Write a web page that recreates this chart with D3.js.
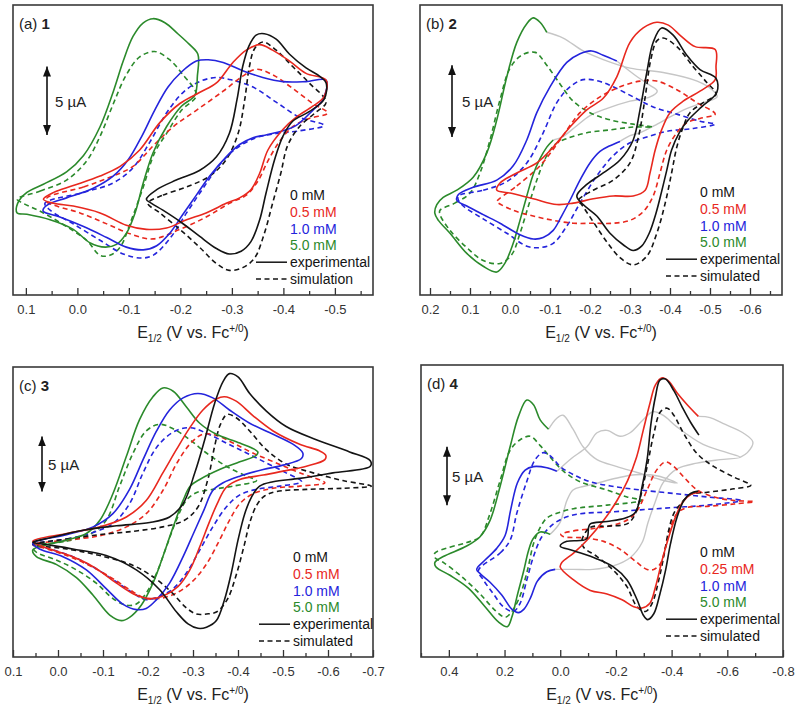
<!DOCTYPE html>
<html>
<head>
<meta charset="utf-8">
<script src="https://cdn.jsdelivr.net/npm/d3@7"></script>
<style>
body{margin:0;background:#fff}
text{font-family:"Liberation Sans",Arial,sans-serif}
</style>
</head>
<body>
<svg width="800" height="707"></svg>
<script>
// tick labels
var ticksA = ["0.1","0.0","-0.1","-0.2","-0.3","-0.4","-0.5"];
var ticksB = ["0.2","0.1","0.0","-0.1","-0.2","-0.3","-0.4","-0.5","-0.6"];
var ticksC = ["0.1","0.0","-0.1","-0.2","-0.3","-0.4","-0.5","-0.6","-0.7"];
var ticksD = ["0.4","0.2","0.0","-0.2","-0.4","-0.6","-0.8"];
var concA = ["0 mM","0.5 mM","1.0 mM","5.0 mM"];
var concD = ["0 mM","0.25 mM","1.0 mM","5.0 mM"];

// [E (V vs Fc), I (uA, arbitrary offset)]
// ---- panel (a) ----
var a_exp0 = [[-0.134,7.0],[-0.154,7.7],[-0.192,8.4],[-0.237,9.1],[-0.270,10.1],[-0.295,11.8],[-0.310,14.3],[-0.321,16.7],[-0.333,18.2],[-0.347,19.0],[-0.363,19.1],[-0.386,18.7],[-0.412,17.6],[-0.444,16.6],[-0.470,16.0],[-0.483,15.5],[-0.479,14.3],[-0.450,13.4],[-0.418,12.7],[-0.399,11.6],[-0.383,9.9],[-0.366,7.4],[-0.354,5.5],[-0.337,3.9],[-0.318,3.2],[-0.295,3.0],[-0.270,3.4],[-0.237,4.3],[-0.202,5.3],[-0.166,6.2],[-0.144,6.7]];
var a_sim0 = [[-0.137,6.7],[-0.166,7.3],[-0.212,7.9],[-0.257,8.7],[-0.289,9.9],[-0.312,11.8],[-0.325,14.3],[-0.334,16.7],[-0.344,18.0],[-0.360,18.5],[-0.386,17.9],[-0.418,16.7],[-0.450,15.5],[-0.483,14.1],[-0.461,13.3],[-0.431,12.3],[-0.408,10.9],[-0.395,8.9],[-0.379,6.7],[-0.363,4.5],[-0.344,2.7],[-0.321,2.0],[-0.295,1.8],[-0.270,2.3],[-0.237,3.5],[-0.199,4.8],[-0.160,6.0]];
var a_exp05 = [[0.066,7.0],[0.046,7.5],[0.008,8.0],[-0.044,8.7],[-0.083,9.4],[-0.121,10.6],[-0.160,12.6],[-0.199,14.0],[-0.237,14.8],[-0.270,15.5],[-0.302,17.0],[-0.328,17.9],[-0.354,18.3],[-0.379,17.9],[-0.412,17.1],[-0.444,16.2],[-0.483,15.7],[-0.479,14.5],[-0.457,13.8],[-0.425,13.0],[-0.399,12.1],[-0.370,10.6],[-0.354,8.9],[-0.337,7.7],[-0.315,7.1],[-0.289,6.7],[-0.250,6.0],[-0.212,5.5],[-0.173,4.9],[-0.134,4.8],[-0.095,5.1],[-0.044,6.0],[0.008,6.5],[0.046,6.7]];
var a_sim05 = [[0.059,7.1],[-0.012,7.9],[-0.063,8.6],[-0.108,9.4],[-0.147,10.9],[-0.186,12.3],[-0.231,13.5],[-0.283,14.9],[-0.321,16.0],[-0.347,16.5],[-0.379,16.1],[-0.418,15.1],[-0.457,14.0],[-0.486,13.3],[-0.450,12.9],[-0.418,12.3],[-0.392,11.2],[-0.370,9.8],[-0.350,8.3],[-0.328,7.3],[-0.295,6.7],[-0.250,5.7],[-0.199,4.8],[-0.147,4.1],[-0.108,4.4],[-0.057,5.2],[-0.005,6.0],[0.040,6.5],[0.059,6.8]];
var a_exp1 = [[0.066,6.3],[0.053,6.7],[0.021,7.1],[-0.031,7.8],[-0.070,8.7],[-0.099,9.9],[-0.125,11.6],[-0.150,13.5],[-0.176,15.2],[-0.202,16.3],[-0.231,17.1],[-0.254,17.2],[-0.283,17.0],[-0.321,16.4],[-0.360,15.9],[-0.399,15.6],[-0.444,15.6],[-0.483,15.7],[-0.477,14.3],[-0.457,13.5],[-0.425,12.4],[-0.399,12.0],[-0.366,11.7],[-0.341,11.5],[-0.315,11.0],[-0.289,10.1],[-0.257,8.7],[-0.231,7.3],[-0.205,5.9],[-0.179,4.5],[-0.154,3.6],[-0.128,3.3],[-0.095,3.5],[-0.057,4.2],[-0.012,5.0],[0.034,5.7],[0.066,6.1]];
var a_sim1 = [[0.063,6.7],[-0.012,7.5],[-0.070,8.2],[-0.108,9.3],[-0.141,11.2],[-0.173,13.3],[-0.205,14.8],[-0.237,15.6],[-0.270,15.9],[-0.302,15.7],[-0.341,15.2],[-0.386,14.1],[-0.431,13.0],[-0.479,12.4],[-0.431,12.0],[-0.386,11.8],[-0.347,11.5],[-0.308,10.7],[-0.276,9.5],[-0.244,7.8],[-0.212,6.0],[-0.179,4.1],[-0.147,2.9],[-0.125,2.7],[-0.089,3.0],[-0.044,4.0],[0.008,5.2],[0.053,6.2]];
var a_exp5 = [[0.117,6.0],[0.116,6.7],[0.098,7.5],[0.066,8.1],[0.021,9.0],[-0.012,10.2],[-0.044,12.3],[-0.070,14.9],[-0.089,17.1],[-0.108,18.9],[-0.128,19.9],[-0.147,20.2],[-0.170,19.9],[-0.195,19.1],[-0.218,18.3],[-0.234,17.6],[-0.233,16.0],[-0.228,14.6],[-0.202,13.8],[-0.173,12.3],[-0.147,10.4],[-0.128,8.2],[-0.112,6.0],[-0.095,4.5],[-0.076,3.7],[-0.054,3.5],[-0.025,3.8],[0.008,4.8],[0.053,5.5],[0.098,5.9]];
var a_sim5 = [[0.117,7.0],[0.072,7.6],[0.021,8.4],[-0.018,9.8],[-0.044,11.6],[-0.070,14.0],[-0.095,16.1],[-0.121,17.4],[-0.150,17.8],[-0.179,17.2],[-0.205,16.1],[-0.231,14.6],[-0.202,13.5],[-0.173,11.8],[-0.150,10.4],[-0.128,7.9],[-0.105,5.5],[-0.083,3.5],[-0.063,2.9],[-0.044,2.9],[-0.018,4.0],[0.021,5.0],[0.066,6.0],[0.105,6.7]];

// ---- panel (b) ----
var b_exp0 = [[-0.167,6.9],[-0.192,7.7],[-0.233,8.5],[-0.275,9.4],[-0.308,10.8],[-0.325,12.9],[-0.342,15.5],[-0.358,17.6],[-0.379,18.6],[-0.408,18.1],[-0.442,16.7],[-0.475,15.7],[-0.515,15.1],[-0.517,14.1],[-0.479,13.1],[-0.446,12.2],[-0.423,11.3],[-0.404,10.1],[-0.392,8.7],[-0.379,7.2],[-0.365,5.7],[-0.348,4.3],[-0.329,3.4],[-0.308,3.1],[-0.283,3.5],[-0.250,4.3],[-0.217,5.5],[-0.183,6.3]];
var b_sim0 = [[-0.171,6.6],[-0.208,7.3],[-0.258,8.0],[-0.300,9.2],[-0.321,11.0],[-0.338,13.8],[-0.352,16.4],[-0.367,17.7],[-0.383,17.9],[-0.417,17.3],[-0.458,15.9],[-0.492,14.8],[-0.515,14.0],[-0.483,13.4],[-0.450,12.7],[-0.433,11.7],[-0.417,10.3],[-0.404,8.5],[-0.388,6.4],[-0.367,4.3],[-0.342,2.7],[-0.308,2.1],[-0.275,2.6],[-0.242,3.7],[-0.208,5.1],[-0.179,6.3]];
var b_exp05 = [[0.033,7.3],[0.025,7.8],[-0.017,8.5],[-0.067,9.2],[-0.108,10.3],[-0.150,11.7],[-0.192,12.9],[-0.233,13.7],[-0.267,15.2],[-0.300,17.6],[-0.333,18.6],[-0.367,19.0],[-0.396,18.8],[-0.429,18.0],[-0.463,17.3],[-0.513,17.1],[-0.515,15.9],[-0.513,15.0],[-0.475,14.2],[-0.433,13.5],[-0.400,12.7],[-0.379,11.5],[-0.363,10.1],[-0.350,8.5],[-0.338,7.3],[-0.308,6.9],[-0.258,6.9],[-0.208,6.7],[-0.158,6.4],[-0.117,6.3],[-0.058,6.7],[0.000,7.1]];
var b_sim05 = [[0.033,6.5],[-0.017,7.6],[-0.075,9.0],[-0.125,10.8],[-0.175,12.7],[-0.225,13.8],[-0.275,14.5],[-0.325,14.9],[-0.367,14.9],[-0.417,14.3],[-0.467,13.4],[-0.513,12.6],[-0.475,12.3],[-0.442,12.0],[-0.417,11.3],[-0.392,10.1],[-0.375,8.5],[-0.358,6.9],[-0.333,5.8],[-0.300,5.2],[-0.258,5.0],[-0.208,5.0],[-0.158,5.0],[-0.108,5.2],[-0.058,5.5],[-0.008,5.9],[0.029,6.4]];
var b_exp1 = [[-0.275,10.7],[-0.250,10.4],[-0.225,10.0],[-0.200,9.2],[-0.175,8.0],[-0.150,6.6],[-0.129,5.5],[-0.108,4.5],[-0.083,4.0],[-0.058,3.9],[-0.025,4.2],[0.025,5.0],[0.067,5.6],[0.108,6.2],[0.133,6.6],[0.129,7.0],[0.092,7.5],[0.033,8.0],[-0.008,9.0],[-0.042,10.8],[-0.067,12.7],[-0.100,14.5],[-0.142,16.2],[-0.175,16.8],[-0.204,17.0],[-0.233,16.7],[-0.267,16.3]];
var b_sim1 = [[0.129,6.9],[0.067,7.3],[0.008,7.9],[-0.042,9.2],[-0.083,11.3],[-0.117,13.4],[-0.150,14.5],[-0.183,15.0],[-0.221,14.9],[-0.258,14.5],[-0.308,13.8],[-0.358,13.1],[-0.417,12.6],[-0.475,12.1],[-0.513,11.9],[-0.458,11.6],[-0.392,11.4],[-0.342,11.0],[-0.300,10.6],[-0.258,9.7],[-0.217,8.3],[-0.175,6.4],[-0.142,4.8],[-0.108,3.6],[-0.075,3.3],[-0.042,3.4],[0.008,4.3],[0.067,5.3],[0.117,6.2],[0.129,6.6]];
var b_exp5 = [[-0.108,10.8],[-0.092,10.3],[-0.075,9.5],[-0.058,8.4],[-0.042,6.9],[-0.025,5.2],[-0.008,3.6],[0.013,2.2],[0.033,1.6],[0.067,2.0],[0.108,2.9],[0.150,4.3],[0.179,5.2],[0.188,5.7],[0.183,6.3],[0.167,6.8],[0.133,7.3],[0.092,8.2],[0.058,9.9],[0.033,12.2],[0.008,15.2],[-0.017,17.6],[-0.042,18.9],[-0.058,19.3],[-0.075,19.0],[-0.092,18.3]];
var b_sim5 = [[0.175,5.9],[0.138,6.4],[0.100,7.1],[0.075,8.5],[0.050,10.8],[0.025,13.6],[0.000,15.8],[-0.029,16.7],[-0.063,16.9],[-0.092,16.0],[-0.125,14.7],[-0.158,13.5],[-0.200,12.7],[-0.250,12.2],[-0.308,11.9],[-0.357,11.7],[-0.308,11.7],[-0.250,11.5],[-0.192,11.3],[-0.142,10.9],[-0.113,10.5],[-0.088,9.5],[-0.067,8.0],[-0.046,6.2],[-0.025,4.3],[-0.004,2.8],[0.025,2.2],[0.067,2.4],[0.108,3.3],[0.150,4.5],[0.175,5.6]];
var b_gray5 = [[-0.092,18.3],[-0.133,17.9],[-0.183,17.0],[-0.233,16.4],[-0.300,15.8],[-0.383,15.5],[-0.468,14.9],[-0.505,14.3],[-0.518,13.8],[-0.483,13.4],[-0.443,13.0],[-0.400,12.4],[-0.368,11.9],[-0.325,11.3],[-0.300,11.1],[-0.275,10.7]];
var b_gray1 = [[-0.267,16.3],[-0.318,15.2],[-0.350,14.6],[-0.368,14.2],[-0.350,13.8],[-0.300,13.5],[-0.243,13.0],[-0.200,12.5],[-0.163,11.7],[-0.130,11.0],[-0.108,10.8]];

// ---- panel (c) ----
var c_exp0 = [[0.056,10.4],[0.019,10.8],[-0.056,11.5],[-0.130,11.9],[-0.204,12.2],[-0.248,12.7],[-0.278,13.9],[-0.304,16.7],[-0.326,19.7],[-0.348,23.0],[-0.367,25.0],[-0.381,25.7],[-0.400,25.4],[-0.426,23.9],[-0.463,22.3],[-0.507,20.9],[-0.574,19.7],[-0.648,18.6],[-0.694,17.8],[-0.694,17.3],[-0.611,16.7],[-0.537,16.2],[-0.478,15.9],[-0.448,15.5],[-0.430,14.5],[-0.415,13.0],[-0.400,10.6],[-0.385,7.6],[-0.370,5.2],[-0.352,3.3],[-0.330,2.7],[-0.311,2.6],[-0.289,3.0],[-0.263,4.1],[-0.226,6.1],[-0.174,7.9],[-0.107,9.2],[-0.033,9.8],[0.026,10.2]];
var c_sim0 = [[0.056,10.2],[-0.019,10.7],[-0.093,11.1],[-0.167,11.4],[-0.233,11.8],[-0.281,12.4],[-0.311,13.6],[-0.333,16.1],[-0.348,19.1],[-0.361,21.1],[-0.376,22.0],[-0.396,21.7],[-0.426,20.5],[-0.463,18.8],[-0.507,17.5],[-0.567,16.7],[-0.633,16.0],[-0.696,15.5],[-0.633,15.3],[-0.552,15.2],[-0.485,15.0],[-0.459,14.6],[-0.442,13.8],[-0.427,12.3],[-0.413,10.0],[-0.395,7.3],[-0.376,5.2],[-0.353,4.1],[-0.330,3.9],[-0.307,3.9],[-0.284,4.5],[-0.254,5.8],[-0.217,7.1],[-0.167,8.3],[-0.093,9.2],[-0.019,9.8]];
var c_exp05 = [[0.056,10.5],[-0.019,11.2],[-0.093,11.8],[-0.152,12.7],[-0.196,14.2],[-0.233,16.7],[-0.263,18.8],[-0.293,20.8],[-0.322,22.4],[-0.352,23.4],[-0.370,23.6],[-0.396,23.2],[-0.433,21.9],[-0.478,20.5],[-0.537,19.3],[-0.581,18.7],[-0.595,18.3],[-0.593,17.9],[-0.552,17.3],[-0.507,16.9],[-0.456,16.5],[-0.404,16.1],[-0.374,15.4],[-0.356,14.1],[-0.337,12.3],[-0.315,10.0],[-0.293,7.9],[-0.267,6.4],[-0.237,5.6],[-0.207,5.3],[-0.174,5.6],[-0.130,6.7],[-0.078,8.2],[-0.026,9.2],[0.026,9.9]];
var c_sim05 = [[0.056,10.2],[-0.019,10.6],[-0.093,11.0],[-0.152,11.8],[-0.196,13.0],[-0.233,15.1],[-0.263,17.5],[-0.293,19.3],[-0.322,20.2],[-0.352,20.1],[-0.389,19.4],[-0.433,18.5],[-0.485,17.6],[-0.537,16.7],[-0.593,15.8],[-0.537,15.5],[-0.478,15.3],[-0.433,14.8],[-0.404,13.9],[-0.381,12.4],[-0.359,10.6],[-0.331,8.5],[-0.300,6.9],[-0.263,5.8],[-0.226,5.3],[-0.196,5.3],[-0.167,5.9],[-0.122,7.1],[-0.070,8.3],[-0.019,9.2],[0.033,9.9]];
var c_exp1 = [[0.056,10.3],[-0.019,11.1],[-0.078,11.8],[-0.122,13.0],[-0.159,15.2],[-0.189,17.9],[-0.219,20.5],[-0.248,22.4],[-0.278,23.5],[-0.311,23.9],[-0.344,23.5],[-0.381,22.4],[-0.426,21.2],[-0.478,20.2],[-0.522,19.3],[-0.544,18.5],[-0.541,18.0],[-0.500,17.4],[-0.456,17.0],[-0.404,16.4],[-0.367,15.8],[-0.344,15.1],[-0.324,13.3],[-0.301,11.2],[-0.278,9.1],[-0.248,6.7],[-0.219,5.2],[-0.196,4.4],[-0.174,4.3],[-0.144,4.8],[-0.107,6.2],[-0.063,7.9],[-0.011,9.1],[0.041,9.8]];
var c_sim1 = [[0.056,10.2],[-0.019,10.7],[-0.078,11.3],[-0.122,12.1],[-0.159,13.9],[-0.189,16.7],[-0.219,19.0],[-0.256,20.4],[-0.293,20.8],[-0.330,20.3],[-0.374,19.4],[-0.419,18.5],[-0.463,17.6],[-0.507,16.7],[-0.541,15.9],[-0.493,15.5],[-0.441,15.2],[-0.404,14.7],[-0.374,13.6],[-0.344,11.8],[-0.315,9.7],[-0.285,7.6],[-0.256,6.2],[-0.226,5.5],[-0.196,5.2],[-0.167,5.8],[-0.130,6.8],[-0.085,8.0],[-0.033,9.1],[0.019,9.8]];
var c_exp5 = [[0.056,9.7],[-0.019,10.6],[-0.063,11.2],[-0.093,12.4],[-0.122,14.8],[-0.152,18.2],[-0.181,21.5],[-0.211,23.6],[-0.233,24.4],[-0.256,24.1],[-0.285,22.7],[-0.315,21.2],[-0.352,20.2],[-0.404,19.4],[-0.444,18.6],[-0.441,18.3],[-0.404,17.7],[-0.359,17.0],[-0.315,16.1],[-0.294,15.5],[-0.278,14.2],[-0.256,11.8],[-0.233,9.1],[-0.211,6.7],[-0.185,4.7],[-0.159,3.6],[-0.141,3.3],[-0.115,3.8],[-0.078,5.6],[-0.041,7.2],[0.004,8.4],[0.048,9.1]];
var c_sim5 = [[0.056,10.0],[-0.019,10.5],[-0.070,11.1],[-0.107,12.4],[-0.137,15.5],[-0.167,18.5],[-0.196,20.5],[-0.226,21.1],[-0.256,20.7],[-0.293,19.7],[-0.330,18.5],[-0.374,17.3],[-0.419,16.4],[-0.441,16.0],[-0.389,15.5],[-0.344,15.2],[-0.307,14.9],[-0.285,14.2],[-0.263,12.4],[-0.241,10.0],[-0.219,7.6],[-0.196,5.8],[-0.174,4.8],[-0.152,4.7],[-0.122,5.3],[-0.085,6.7],[-0.041,7.9],[0.004,8.8],[0.048,9.5]];

// ---- panel (d) ----
var d_exp0 = [[-0.498,19.0],[-0.468,20.1],[-0.438,21.4],[-0.408,22.8],[-0.378,23.8],[-0.358,23.7],[-0.342,22.3],[-0.326,20.0],[-0.312,16.9],[-0.294,14.6],[-0.270,12.4],[-0.234,11.9],[-0.168,11.6],[-0.108,11.4],[-0.102,11.1],[-0.094,10.1],[-0.024,9.9],[0.000,9.5],[-0.048,9.1],[-0.132,8.4],[-0.192,7.7],[-0.240,6.6],[-0.276,4.9],[-0.298,3.6],[-0.314,3.2],[-0.336,3.7],[-0.358,5.4],[-0.378,7.4],[-0.396,9.7],[-0.420,12.0],[-0.444,13.4],[-0.468,14.0],[-0.496,14.2]];
var d_sim0 = [[-0.078,10.0],[-0.108,11.1],[-0.168,11.2],[-0.240,11.4],[-0.264,12.0],[-0.288,13.7],[-0.312,16.3],[-0.336,19.1],[-0.360,21.0],[-0.384,21.3],[-0.408,20.7],[-0.444,19.1],[-0.492,17.4],[-0.552,16.3],[-0.624,15.4],[-0.684,14.7],[-0.624,14.4],[-0.528,14.1],[-0.468,13.9],[-0.432,13.1],[-0.408,12.3],[-0.390,10.9],[-0.374,8.9],[-0.354,6.6],[-0.330,4.6],[-0.306,3.9],[-0.276,4.3],[-0.240,6.0],[-0.192,7.4],[-0.132,8.6],[-0.084,9.4]];
var d_exp025 = [[-0.496,20.6],[-0.456,21.6],[-0.420,22.6],[-0.390,23.6],[-0.366,23.9],[-0.342,23.3],[-0.322,21.7],[-0.298,19.4],[-0.274,17.1],[-0.242,15.1],[-0.204,13.4],[-0.156,11.7],[-0.096,10.0],[-0.048,8.9],[-0.006,8.1],[0.000,7.7],[-0.048,6.6],[-0.108,5.7],[-0.168,5.4],[-0.222,4.9],[-0.264,4.3],[-0.294,4.2],[-0.322,4.6],[-0.342,6.0],[-0.366,8.3],[-0.390,10.3],[-0.414,12.0],[-0.438,13.2],[-0.468,13.9],[-0.501,14.1]];
var d_sim025 = [[-0.002,10.5],[-0.048,10.8],[-0.120,11.0],[-0.192,11.3],[-0.246,11.8],[-0.278,12.6],[-0.312,14.3],[-0.346,16.0],[-0.378,16.7],[-0.408,16.3],[-0.444,15.4],[-0.492,14.3],[-0.552,13.7],[-0.624,13.4],[-0.696,13.3],[-0.624,13.1],[-0.528,12.9],[-0.456,12.8],[-0.420,12.3],[-0.396,11.1],[-0.378,9.4],[-0.360,8.0],[-0.336,7.5],[-0.312,7.5],[-0.270,8.2],[-0.216,9.2],[-0.156,9.9],[-0.084,10.2],[-0.012,10.3]];
var d_exp1 = [[0.018,7.5],[0.048,7.3],[0.082,6.5],[0.106,5.1],[0.130,4.1],[0.150,3.8],[0.174,4.1],[0.210,5.3],[0.252,6.4],[0.286,7.1],[0.300,7.5],[0.270,8.3],[0.228,9.3],[0.198,10.4],[0.178,12.6],[0.154,14.9],[0.126,16.0],[0.096,16.3],[0.048,16.2],[0.012,15.9]];
var d_sim1 = [[0.294,7.4],[0.216,8.9],[0.180,10.0],[0.156,12.3],[0.122,14.9],[0.090,16.9],[0.060,17.5],[0.030,17.1],[0.000,16.3],[-0.048,15.6],[-0.108,15.0],[-0.192,14.6],[-0.288,14.3],[-0.408,14.0],[-0.528,13.7],[-0.648,13.4],[-0.528,13.0],[-0.408,12.8],[-0.288,12.6],[-0.168,12.4],[-0.084,12.3],[-0.024,12.0],[0.024,11.4],[0.066,10.3],[0.096,8.6],[0.120,6.6],[0.144,4.6],[0.168,3.9],[0.204,4.3],[0.240,5.4],[0.276,6.6]];
var d_exp5 = [[0.036,10.5],[0.072,10.7],[0.098,10.1],[0.114,9.1],[0.132,7.3],[0.154,5.3],[0.174,3.4],[0.190,2.6],[0.222,3.0],[0.270,4.3],[0.330,5.9],[0.396,7.0],[0.446,7.7],[0.450,8.1],[0.420,8.6],[0.336,9.5],[0.288,10.3],[0.252,11.7],[0.216,14.6],[0.180,18.0],[0.150,20.6],[0.120,22.0],[0.096,21.6],[0.072,20.3],[0.042,19.5]];
var d_sim5 = [[0.450,8.9],[0.396,9.4],[0.336,9.8],[0.288,10.3],[0.252,12.3],[0.216,15.1],[0.180,17.7],[0.144,18.6],[0.108,18.9],[0.072,18.1],[0.036,17.1],[-0.012,15.9],[-0.072,15.0],[-0.168,14.3],[-0.240,13.7],[-0.294,13.4],[-0.168,13.0],[-0.048,12.7],[0.012,12.3],[0.048,11.9],[0.074,11.0],[0.096,9.7],[0.118,7.4],[0.150,4.9],[0.180,3.7],[0.198,3.4],[0.234,4.0],[0.288,5.4],[0.360,7.0],[0.420,8.1],[0.450,8.5]];
var d_gray5 = [[0.042,19.5],[0.014,20.4],[-0.010,20.7],[-0.046,19.5],[-0.082,18.0],[-0.132,16.9],[-0.204,16.3],[-0.276,15.8],[-0.358,15.2],[-0.420,14.9],[-0.350,15.5],[-0.270,15.6],[-0.200,15.3],[-0.120,14.8],[-0.082,14.6],[-0.046,14.3],[-0.024,13.4],[0.001,11.5],[0.036,10.5]];
var d_gray1 = [[0.012,15.9],[-0.040,17.0],[-0.096,18.0],[-0.132,19.2],[-0.168,19.4],[-0.215,18.9],[-0.251,19.2],[-0.297,20.3],[-0.333,21.0],[-0.369,20.7],[-0.419,19.7],[-0.513,18.2],[-0.599,17.5],[-0.646,17.1],[-0.574,16.9],[-0.491,16.6],[-0.419,16.1],[-0.369,14.9],[-0.340,13.2],[-0.315,11.5],[-0.294,9.8],[-0.251,8.5],[-0.190,7.8],[-0.118,7.5],[-0.046,7.5],[0.018,7.5]];
var d_gray025 = [[-0.496,20.6],[-0.538,20.5],[-0.584,20.0],[-0.656,19.2],[-0.692,18.4],[-0.672,17.5],[-0.646,17.1]];

var colors = {k:"#141414", r:"#e8281e", b:"#2424dc", g:"#2b8a2b", gray:"#c6c6c6"};

function set(exp0, sim0, exp05, sim05, exp1, sim1, exp5, sim5) {
  return [
    {d:sim5, c:"g", dash:true}, {d:sim1, c:"b", dash:true}, {d:sim05, c:"r", dash:true}, {d:sim0, c:"k", dash:true},
    {d:exp5, c:"g"}, {d:exp1, c:"b"}, {d:exp05, c:"r"}, {d:exp0, c:"k"}
  ];
}

var panels = [
  {tag:"(a) ", num:"1", left:13, top:5, w:360, h:290, xDom:[0.125,-0.574], yDom:[0,21.2],
   ticks:ticksA, minorStep:0.05, conc:concA, sim:"simulation", bar:{x:34, lo:11.7, tx:42}, leg:{x:277, y:190},
   gray:[], series:set(a_exp0,a_sim0,a_exp05,a_sim05,a_exp1,a_sim1,a_exp5,a_sim5),
   open:[]},
  {tag:"(b) ", num:"2", left:420, top:5, w:362, h:290, xDom:[0.225,-0.68], yDom:[0,20.2],
   ticks:ticksB, minorStep:0.05, conc:concA, sim:"simulated", bar:{x:32, lo:11.0, tx:42}, leg:{x:280, y:187},
   gray:[b_gray5,b_gray1], series:set(b_exp0,b_sim0,b_exp05,b_sim05,b_exp1,b_sim1,b_exp5,b_sim5),
   open:[b_exp1,b_exp5]},
  {tag:"(c) ", num:"3", left:13, top:367, w:360, h:290, xDom:[0.1,-0.7], yDom:[0,26.3],
   ticks:ticksC, minorStep:0.05, conc:concA, sim:"simulated", bar:{x:29, lo:15.0, tx:35}, leg:{x:280, y:190},
   gray:[], series:set(c_exp0,c_sim0,c_exp05,c_sim05,c_exp1,c_sim1,c_exp5,c_sim5),
   open:[]},
  {tag:"(d) ", num:"4", left:421, top:365, w:362, h:292, xDom:[0.5,-0.8], yDom:[0,25],
   ticks:ticksD, minorStep:0.1, conc:concD, sim:"simulated", bar:{x:26, lo:13.0, tx:31}, leg:{x:279, y:187},
   gray:[d_gray5,d_gray1,d_gray025], series:set(d_exp0,d_sim0,d_exp025,d_sim025,d_exp1,d_sim1,d_exp5,d_sim5),
   open:[d_exp0,d_exp025,d_exp1,d_exp5]}
];

var svg = d3.select("svg");
svg.append("rect").attr("width",800).attr("height",707).attr("fill","#fff");

var defs = svg.append("defs");
defs.append("marker").attr("id","arr").attr("viewBox","0 0 10 8")
    .attr("refX",10).attr("refY",4).attr("markerWidth",10).attr("markerHeight",8)
    .attr("markerUnits","userSpaceOnUse").attr("orient","auto-start-reverse")
  .append("path").attr("d","M0,0L10,4L0,8z").attr("fill","#111");

panels.forEach(function(p, pi) {
  var x = d3.scaleLinear().domain(p.xDom).range([0, p.w]);
  var y = d3.scaleLinear().domain(p.yDom).range([p.h, 0]);
  var g = svg.append("g").attr("transform","translate(" + p.left + "," + p.top + ")");

  defs.append("clipPath").attr("id","clip" + pi)
    .append("rect").attr("width",p.w).attr("height",p.h);
  var plot = g.append("g").attr("clip-path","url(#clip" + pi + ")");

  var line = function(d, closed) {
    return d3.line()
      .x(function(v) { return x(v[0]); })
      .y(function(v) { return y(v[1]); })
      .curve(closed ? d3.curveCatmullRomClosed.alpha(0.5) : d3.curveCatmullRom.alpha(0.5))(d);
  };

  p.gray.forEach(function(d) {
    plot.append("path").attr("d", line(d, false)).attr("fill","none")
      .attr("stroke", colors.gray).attr("stroke-width",1.4);
  });
  p.series.forEach(function(s) {
    var closed = p.open.indexOf(s.d) < 0;
    plot.append("path").attr("d", line(s.d, closed)).attr("fill","none")
      .attr("stroke", colors[s.c]).attr("stroke-width",1.6)
      .attr("stroke-dasharray", s.dash ? "5,3.5" : null);
  });

  // axes (ticks inward)
  var major = p.ticks.map(function(t) { return +t; });
  var minor = [];
  var lo = Math.min(p.xDom[0], p.xDom[1]), hi = Math.max(p.xDom[0], p.xDom[1]);
  for (var k = Math.ceil(lo / p.minorStep - 1e-6); k * p.minorStep <= hi + 1e-9; k++) {
    var v = +(k * p.minorStep).toFixed(3);
    if (!major.some(function(m) { return Math.abs(m - v) < 1e-6; })) minor.push(v);
  }
  var gx = g.append("g").attr("transform","translate(0," + p.h + ")")
    .call(d3.axisBottom(x).tickValues(major).tickSize(-7).tickPadding(10)
      .tickFormat(function(d, i) { return p.ticks[i]; }));
  gx.select(".domain").remove();
  gx.selectAll("line").attr("stroke","#333").attr("stroke-width",1.3);
  gx.selectAll("text").attr("font-size",13).attr("fill","#333")
    .attr("font-family",'"Liberation Sans",Arial,sans-serif');
  var gm = g.append("g").attr("transform","translate(0," + p.h + ")")
    .call(d3.axisBottom(x).tickValues(minor).tickSize(-4).tickFormat(""));
  gm.select(".domain").remove();
  gm.selectAll("line").attr("stroke","#333").attr("stroke-width",1.3);

  g.append("rect").attr("width",p.w).attr("height",p.h).attr("fill","none")
    .attr("stroke","#3a3a3a").attr("stroke-width",1.6);

  // panel label
  var lab = g.append("text").attr("x",6).attr("y",24).attr("font-size",15).attr("fill","#222").text(p.tag);
  lab.append("tspan").attr("font-weight","bold").text(p.num);

  // 5 uA scale bar
  var y1 = y(p.bar.lo), y2 = y(p.bar.lo + 5);
  g.append("line").attr("x1",p.bar.x).attr("x2",p.bar.x).attr("y1",y1).attr("y2",y2)
    .attr("stroke","#111").attr("stroke-width",1.6)
    .attr("marker-start","url(#arr)").attr("marker-end","url(#arr)");
  g.append("text").attr("x",p.bar.tx).attr("y",(y1 + y2) / 2 + 6)
    .attr("font-size",15).attr("fill","#222").text("5 \u00b5A");

  // legend
  var lc = ["k","r","b","g"];
  p.conc.forEach(function(t, i) {
    g.append("text").attr("x",p.leg.x).attr("y",p.leg.y + i * 16.8 + 5)
      .attr("font-size",14).attr("fill",colors[lc[i]]).text(t);
  });
  [["experimental",false],[p.sim,true]].forEach(function(e, j) {
    var yy = p.leg.y + (4 + j) * 16.8;
    g.append("line").attr("x1",p.leg.x - 34).attr("x2",p.leg.x - 3).attr("y1",yy).attr("y2",yy)
      .attr("stroke","#141414").attr("stroke-width",1.5)
      .attr("stroke-dasharray", e[1] ? "5,3.5" : null);
    g.append("text").attr("x",p.leg.x).attr("y",yy + 5).attr("font-size",14).attr("fill","#141414").text(e[0]);
  });

  // x axis title
  var t = g.append("text").attr("x",p.w / 2).attr("y",p.h + 43).attr("text-anchor","middle")
    .attr("font-size",16).attr("fill","#222");
  t.append("tspan").text("E");
  t.append("tspan").attr("font-size",10).attr("dy",4).text("1/2");
  t.append("tspan").attr("dy",-4).text(" (V vs. Fc");
  t.append("tspan").attr("font-size",10).attr("dy",-6).text("+/0");
  t.append("tspan").attr("dy",6).text(")");
});
</script>
</body>
</html>
